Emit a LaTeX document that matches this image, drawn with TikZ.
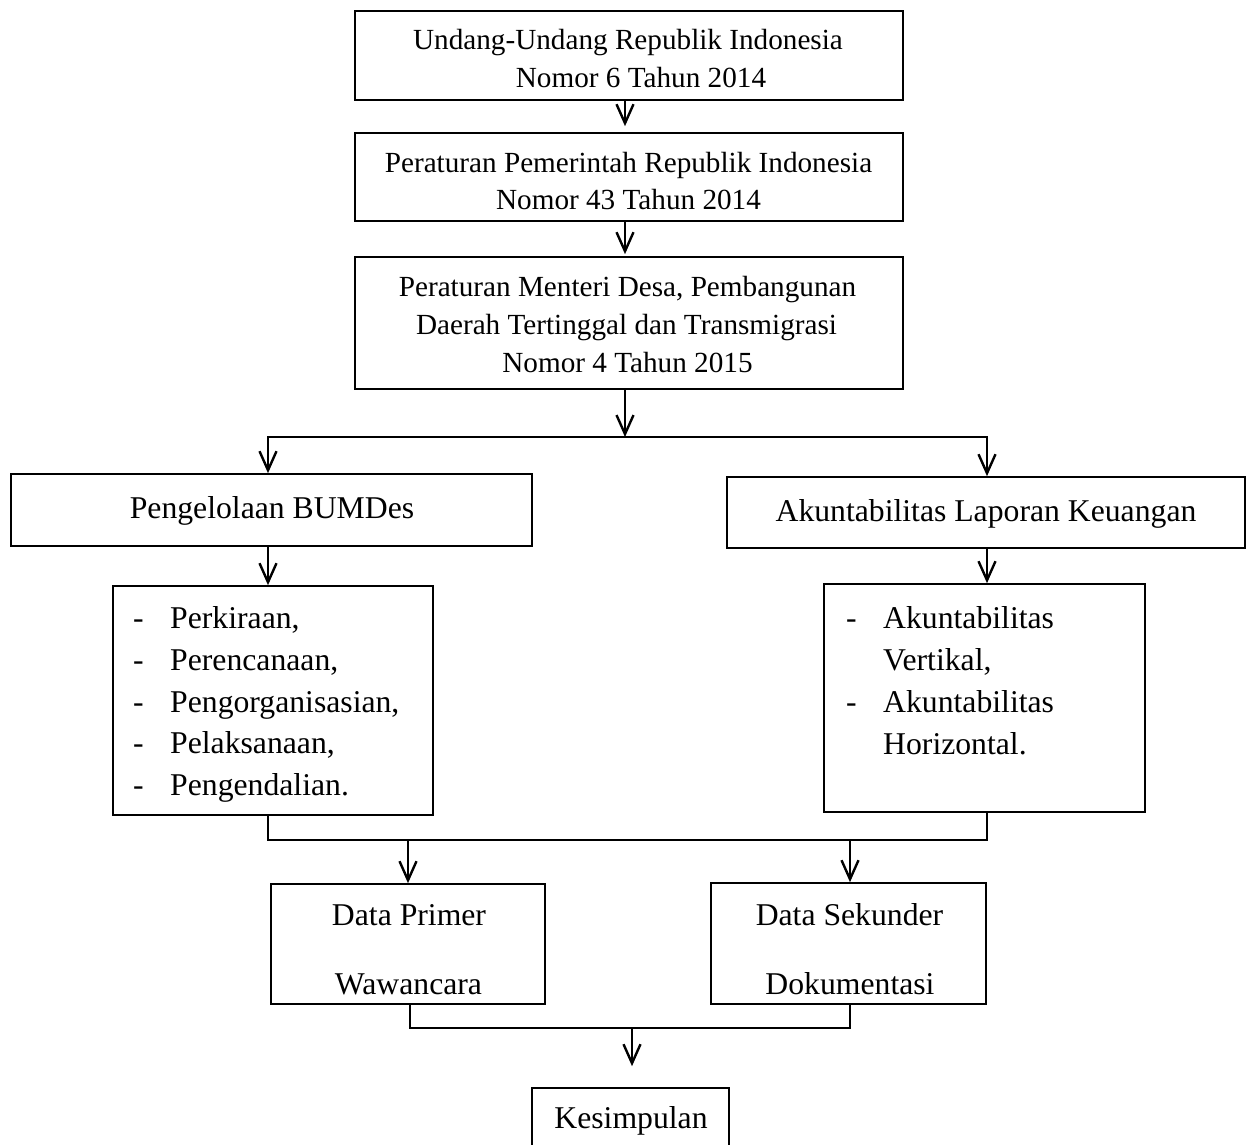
\documentclass[tikz,border=0pt]{standalone}
\usepackage{fontspec}
\setmainfont{Liberation Serif}
\usetikzlibrary{arrows.meta}
\newcommand\fA{\fontsize{29.2}{38}\selectfont}
\newcommand\fB{\fontsize{31.7}{42}\selectfont}
\begin{document}
\begin{tikzpicture}[x=1pt,y=-1pt,
  box/.style={draw,line width=1.7pt,inner sep=0pt,rectangle},
  tA/.style={inner sep=0pt,anchor=base,font=\fA},
  tB/.style={inner sep=0pt,anchor=base,font=\fB},
  tBw/.style={inner sep=0pt,anchor=base west,font=\fB},
  conn/.style={line width=2.4pt},
  arr/.style={line width=2.4pt,-{Straight Barb[length=19pt,width=17pt,line width=2.4pt]}}]
\useasboundingbox[fill=white] (0,0) rectangle (1253,1144);

% boxes
\node[box,minimum width=548pt,minimum height=89pt] (b1) at (629,55.5) {};
\node[box,minimum width=548pt,minimum height=88pt] (b2) at (629,177) {};
\node[box,minimum width=548pt,minimum height=132pt] (b3) at (629,323) {};
\node[box,minimum width=521pt,minimum height=72pt] (b4) at (271.5,510) {};
\node[box,minimum width=518pt,minimum height=71pt] (b5) at (986,512.5) {};
\node[box,minimum width=320pt,minimum height=229pt] (b6) at (273,700.5) {};
\node[box,minimum width=321pt,minimum height=228pt] (b7) at (984.5,698) {};
\node[box,minimum width=274pt,minimum height=120pt] (b8) at (408,944) {};
\node[box,minimum width=275pt,minimum height=121pt] (b9) at (848.5,943.5) {};
\node[box,minimum width=197pt,minimum height=92pt] (b10) at (630.5,1134) {};

% texts
\node[tA] (t1a) at (628,49) {Undang-Undang Republik Indonesia};
\node[tA] (t1b) at (641,87) {Nomor 6 Tahun 2014};
\node[tA] (t2a) at (628.5,172) {Peraturan Pemerintah Republik Indonesia};
\node[tA] (t2b) at (628.5,209) {Nomor 43 Tahun 2014};
\node[tA] (t3a) at (627.5,296) {Peraturan Menteri Desa, Pembangunan};
\node[tA] (t3b) at (626.5,334) {Daerah Tertinggal dan Transmigrasi};
\node[tA] (t3c) at (627.5,372) {Nomor 4 Tahun 2015};
\node[tB] (t4) at (272,518) {Pengelolaan BUMDes};
\node[tB] (t5) at (986,521) {Akuntabilitas Laporan Keuangan};

\node[tBw] (d6a) at (133,628) {-};
\node[tBw] (t6a) at (170,628) {Perkiraan,};
\node[tBw] (d6b) at (133,670) {-};
\node[tBw] (t6b) at (170,670) {Perencanaan,};
\node[tBw] (d6c) at (133,712) {-};
\node[tBw] (t6c) at (170,712) {Pengorganisasian,};
\node[tBw] (d6d) at (133,753) {-};
\node[tBw] (t6d) at (170,753) {Pelaksanaan,};
\node[tBw] (d6e) at (133,795) {-};
\node[tBw] (t6e) at (170,795) {Pengendalian.};

\node[tBw] (d7a) at (846,628) {-};
\node[tBw] (t7a) at (883,628) {Akuntabilitas};
\node[tBw] (t7b) at (883,670) {Vertikal,};
\node[tBw] (d7c) at (846,712) {-};
\node[tBw] (t7c) at (883,712) {Akuntabilitas};
\node[tBw] (t7d) at (883,754) {Horizontal.};

\node[tB] (t8a) at (409,925) {Data Primer};
\node[tB] (t8b) at (408.5,994) {Wawancara};
\node[tB] (t9a) at (849.5,925) {Data Sekunder};
\node[tB] (t9b) at (850,994) {Dokumentasi};
\node[tB] (t10) at (631,1128) {Kesimpulan};

% helper coordinates
\coordinate (j1) at (625,437);
\coordinate (c4n) at ([xshift=-3.5pt]b4.north);
\coordinate (c5n) at ([xshift=1pt]b5.north);
\coordinate (c4) at ([xshift=-3.5pt]b4.south);
\coordinate (c5) at ([xshift=1pt]b5.south);
\coordinate (c6) at ([xshift=-5pt]b6.south);
\coordinate (c7) at ([xshift=2.5pt]b7.south);
\coordinate (mm) at (630,840);
\coordinate (c9n) at ([xshift=1.5pt]b9.north);
\coordinate (c8) at ([xshift=2pt]b8.south);
\coordinate (c9) at ([xshift=1.5pt]b9.south);
\coordinate (j2) at (632,1028);

% connectors
\draw[arr,shorten >=6pt] ([xshift=-4pt]b1.south) -- ([xshift=-4pt]b2.north);
\draw[arr,shorten >=2pt] ([xshift=-4pt]b2.south) -- ([xshift=-4pt]b3.north);
\draw[arr] ([xshift=-4pt]b3.south) -- (j1);
\draw[arr] (j1) -| (c4n);
\draw[arr] (j1) -| (c5n);
\draw[arr] (c4) -- (c4 |- b6.north);
\draw[arr] (c5) -- (c5 |- b7.north);
\draw[conn] (c6) -- (c6 |- mm) -- (c7 |- mm) -- (c7);
\draw[arr] (b8.north |- mm) -- (b8.north);
\draw[arr] (c9n |- mm) -- (c9n);
\draw[conn] (c8) -- (c8 |- j2) -- (c9 |- j2) -- (c9);
\draw[arr,shorten >=21pt] (j2) -- (j2 |- b10.north);
\end{tikzpicture}
\end{document}
